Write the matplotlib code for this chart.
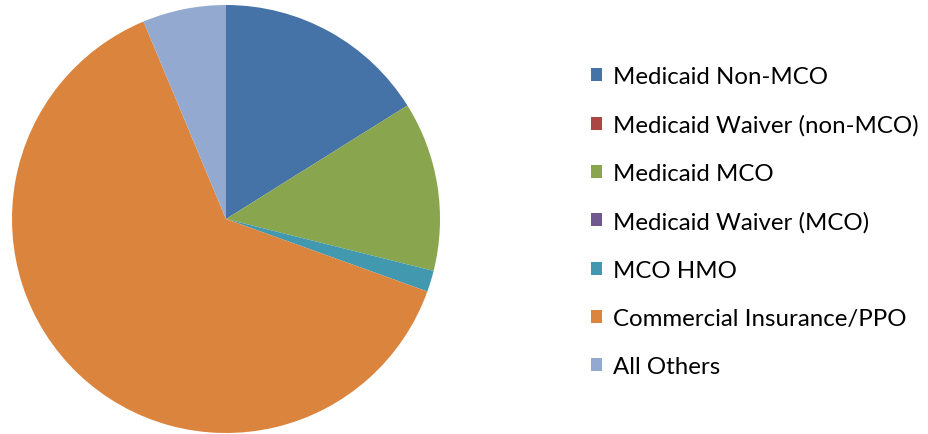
import matplotlib
matplotlib.use("Agg")
import matplotlib.pyplot as plt

categories = ["Medicaid Non-MCO", "Medicaid Waiver (non-MCO)", "Medicaid MCO",
              "Medicaid Waiver (MCO)", "MCO HMO", "Commercial Insurance/PPO", "All Others"]
values = [16.1, 0.0, 12.8, 0.0, 1.6, 63.2, 6.3]
colors = ["#4572A7", "#AA4643", "#89A54E", "#71588F", "#4198AF", "#DB843D", "#93A9CF"]

plt.rcParams['font.family'] = ['Lato', 'DejaVu Sans']

fig = plt.figure(figsize=(9.29, 4.35), dpi=100)
ax = fig.add_axes([12/929, 1/435, 428/929, 428/435])
wedges, _ = ax.pie(values, colors=colors, startangle=90, counterclock=False,
                   radius=1.0, wedgeprops=dict(linewidth=0))
ax.set_xlim(-1, 1)
ax.set_ylim(-1, 1)
ax.set_aspect('equal')
ax.axis('off')

leg = fig.legend(wedges, categories, loc='upper left', bbox_to_anchor=(591/929, 1 - 67/435),
                 frameon=False, fontsize=17.3, handlelength=0.46, handleheight=0.46,
                 handletextpad=0.46, labelspacing=1.13, borderpad=0, borderaxespad=0)

fig.savefig("out.png", dpi=100)
